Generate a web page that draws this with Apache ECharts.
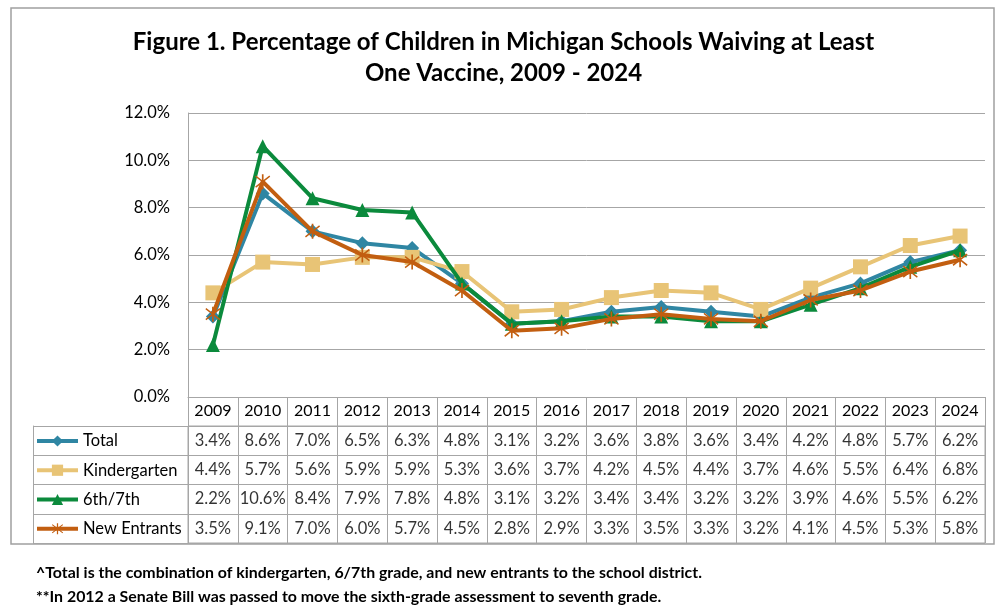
<!DOCTYPE html>
<html>
<head>
<meta charset="utf-8">
<script src="https://cdn.jsdelivr.net/npm/echarts@6/dist/echarts.min.js"></script>
<style>
  html, body { margin: 0; padding: 0; background: #fff; }
  #chart { width: 1007px; height: 611px; }
</style>
</head>
<body>
<div id="chart"></div>
<script>
const years = ['2009', '2010', '2011', '2012', '2013', '2014', '2015', '2016',
    '2017', '2018', '2019', '2020', '2021', '2022', '2023', '2024']
const seriesNames = ['Total', 'Kindergarten', '6th/7th', 'New Entrants']
const total = [3.4, 8.6, 7.0, 6.5, 6.3, 4.8, 3.1, 3.2, 3.6, 3.8, 3.6, 3.4, 4.2, 4.8, 5.7, 6.2]
const kindergarten = [4.4, 5.7, 5.6, 5.9, 5.9, 5.3, 3.6, 3.7, 4.2, 4.5, 4.4, 3.7, 4.6, 5.5, 6.4, 6.8]
const sixthSeventh = [2.2, 10.6, 8.4, 7.9, 7.8, 4.8, 3.1, 3.2, 3.4, 3.4, 3.2, 3.2, 3.9, 4.6, 5.5, 6.2]
const newEntrants = [3.5, 9.1, 7.0, 6.0, 5.7, 4.5, 2.8, 2.9, 3.3, 3.5, 3.3, 3.2, 4.1, 4.5, 5.3, 5.8]
const yTicks = [0, 2, 4, 6, 8, 10, 12]

const allValues = [total, kindergarten, sixthSeventh, newEntrants]
const colors = ['#2f86a3', '#e8c476', '#0b8a3c', '#c25e10']
const symbols = [
    'diamond',
    'rect',
    'triangle',
    // asterisk made of three thin bars
    'path://M9 0L11 0L11 20L9 20Z M1 3.5L2 1.8L19 16.5L18 18.2Z M1 16.5L18 1.8L19 3.5L2 18.2Z'
]
const symbolSizes = [14, 15, 14, 15]

const font = 'Lato, "Open Sans", sans-serif'
const gridColor = '#a6a6a6'

let chart = echarts.init(document.getElementById('chart'))

// the numbers in the table cells
let cells = []
allValues.forEach((vals, s) => {
    vals.forEach((v, i) => {
        cells.push([years[i], seriesNames[s], v])
    })
})

let lineSeries = allValues.map((vals, s) => ({
    name: seriesNames[s],
    type: 'line',
    xAxisIndex: 0,
    yAxisIndex: 0,
    data: vals,
    symbol: symbols[s],
    symbolSize: symbolSizes[s],
    lineStyle: {width: 4, color: colors[s]},
    itemStyle: {color: colors[s]},
    z: 3 + s,
    animation: false
}))

const titleStyle = {
    fontFamily: font,
    fontSize: 24,
    fontWeight: 'bold',
    color: '#000'
}

const option = {
    animation: false,
    title: [
        {
            text: 'Figure 1. Percentage of Children in Michigan Schools Waiving at Least',
            left: 'center',
            top: 30,
            padding: 0,
            textStyle: titleStyle
        },
        {
            text: 'One Vaccine, 2009 - 2024',
            left: 'center',
            top: 61,
            padding: 0,
            textStyle: titleStyle
        }
    ],
    legend: {
        data: seriesNames,
        orient: 'vertical',
        left: 35,
        top: 431,
        padding: 0,
        itemWidth: 41,
        itemHeight: 14,
        itemGap: 9.25,
        lineStyle: {width: 4},
        textStyle: {fontFamily: font, fontSize: 16.5, color: '#000', lineHeight: 20},
        selectedMode: false
    },
    grid: [
        {left: 188, right: 22, top: 113, bottom: 214},
        {left: 188, right: 22, top: 426, bottom: 68, show: true, borderColor: gridColor, borderWidth: 1}
    ],
    xAxis: [
        {
            type: 'category',
            gridIndex: 0,
            data: years,
            boundaryGap: true,
            axisLine: {show: true, lineStyle: {color: gridColor, width: 1}},
            axisTick: {show: true, length: 29, alignWithLabel: false, lineStyle: {color: gridColor}},
            axisLabel: {fontFamily: font, fontSize: 16, color: '#000', margin: 6}
        },
        {
            type: 'category',
            gridIndex: 1,
            data: years,
            boundaryGap: true,
            axisLine: {show: false},
            axisTick: {show: false},
            axisLabel: {show: false},
            splitLine: {show: true, lineStyle: {color: gridColor, width: 1}}
        }
    ],
    yAxis: [
        {
            type: 'value',
            gridIndex: 0,
            min: 0,
            max: 12,
            interval: 2,
            axisLine: {show: true, lineStyle: {color: gridColor, width: 1}},
            axisTick: {show: false},
            axisLabel: {
                fontFamily: font, fontSize: 16.5, color: '#000', margin: 18,
                formatter: v => yTicks.includes(v) ? v.toFixed(1) + '%' : ''
            },
            splitLine: {show: true, lineStyle: {color: gridColor, width: 1}}
        },
        {
            type: 'category',
            gridIndex: 1,
            data: seriesNames,
            inverse: true,
            offset: 155,
            axisLine: {show: true, lineStyle: {color: gridColor, width: 1}},
            axisTick: {show: true, inside: true, length: 155, alignWithLabel: false, lineStyle: {color: gridColor}},
            axisLabel: {show: false},
            splitLine: {show: true, lineStyle: {color: gridColor, width: 1}}
        }
    ],
    series: lineSeries.concat([{
        name: 'cells',
        type: 'scatter',
        xAxisIndex: 1,
        yAxisIndex: 1,
        data: cells,
        symbolSize: 0,
        silent: true,
        label: {
            show: true,
            position: 'inside',
            fontFamily: font,
            fontSize: 16.5,
            color: '#000',
            formatter: p => p.value[2].toFixed(1) + '%'
        }
    }]),
    graphic: [
        {
            type: 'rect',
            shape: {x: 11, y: 8, width: 983, height: 536},
            style: {fill: 'none', stroke: '#a0a0a0', lineWidth: 1.5},
            silent: true
        },
        {
            type: 'text',
            left: 36,
            top: 565,
            style: {
                text: '^Total is the combination of kindergarten, 6/7th grade, and new entrants to the school district.',
                font: 'bold 15.9px ' + font,
                fill: '#000'
            }
        },
        {
            type: 'text',
            left: 36,
            top: 589,
            style: {
                text: '**In 2012 a Senate Bill was passed to move the sixth-grade assessment to seventh grade.',
                font: 'bold 15.9px ' + font,
                fill: '#000'
            }
        }
    ]
}
chart.setOption(option)
window.addEventListener('resize', () => {
    chart.resize()
})
</script>
</body>
</html>
